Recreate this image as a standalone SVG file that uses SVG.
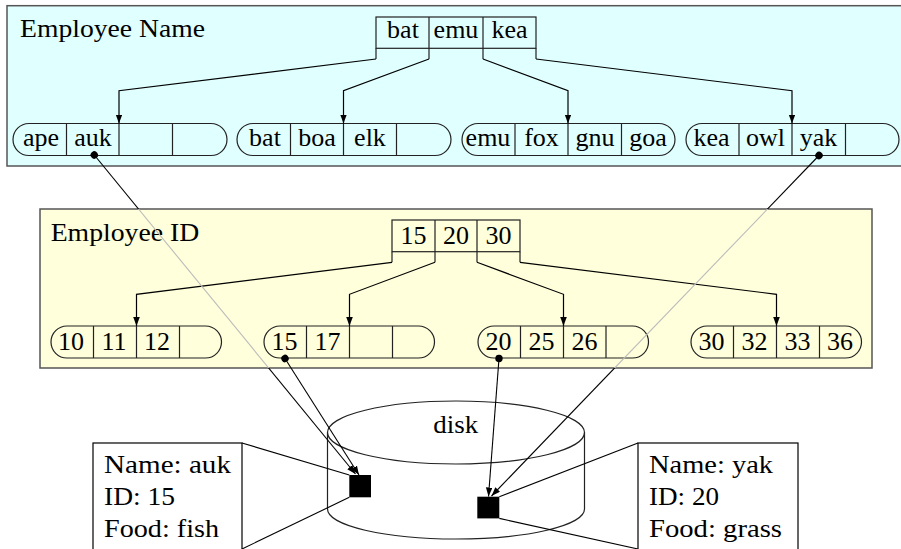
<svg xmlns="http://www.w3.org/2000/svg" width="901" height="549" viewBox="0 0 901 549">
<style>
  text { font-family: "Liberation Serif", "Times New Roman", serif; font-size: 25px; fill: #000; }
  .c { text-anchor: middle; font-size: 26px; }
  .panel { stroke: #555; stroke-width: 1.5; }
  .nd { fill: none; stroke: #222; stroke-width: 1.2; }
  .edge { fill: none; stroke: #000; stroke-width: 1.2; marker-end: url(#arr); }
  .ptr { fill: none; stroke: #000; stroke-width: 1.1; marker-start: url(#dot); marker-end: url(#arr); }
  .cross { stroke: url(#crossGrad); }
  .rec { fill: #fff; stroke: #000; stroke-width: 1.2; }
  .lnk { fill: none; stroke: #000; stroke-width: 1.1; }
</style>
<defs>
  <marker id="arr" markerUnits="userSpaceOnUse" markerWidth="10" markerHeight="8" refX="9" refY="3.3" orient="auto">
    <path d="M0,0 L9,3.3 L0,6.6 Z" fill="#000"/>
  </marker>
  <marker id="dot" markerUnits="userSpaceOnUse" markerWidth="9" markerHeight="9" refX="4.5" refY="4.5" orient="auto">
    <circle cx="4.5" cy="4.5" r="3.7" fill="#000"/>
  </marker>
  <linearGradient id="crossGrad" gradientUnits="userSpaceOnUse" x1="0" y1="0" x2="0" y2="549">
    <stop offset="0" stop-color="#000"/>
    <stop offset="0.3807" stop-color="#000"/>
    <stop offset="0.3807" stop-color="#bbb"/>
    <stop offset="0.6703" stop-color="#bbb"/>
    <stop offset="0.6703" stop-color="#000"/>
    <stop offset="1" stop-color="#000"/>
  </linearGradient>
</defs>
<rect width="901" height="549" fill="#fff"/>

<!-- Panels -->
<g id="panel-name">
  <rect class="panel" x="7" y="5.7" width="900" height="160.3" fill="#e0ffff"/>
  <text x="20" y="37" textLength="185" lengthAdjust="spacingAndGlyphs">Employee Name</text>
</g>
<g id="panel-id">
  <rect class="panel" x="40" y="209" width="832" height="159" fill="#ffffdc"/>
  <text x="50.7" y="240.7" textLength="148.5" lengthAdjust="spacingAndGlyphs">Employee ID</text>
</g>

<!-- Name index root -->
<g id="name-root">
  <rect class="nd" x="376" y="17" width="160" height="31.3"/>
  <path class="nd" d="M429,17 V59 M483,17 V59 M376,48.3 V59 M536,48.3 V59"/>
  <text class="c" x="403" y="38">bat</text>
  <text class="c" x="456" y="38">emu</text>
  <text class="c" x="509.5" y="38">kea</text>
</g>

<!-- Name leaves -->
<g id="name-leaf-1">
  <path class="nd" d="M29,123.5 H211 A16,16 0 0 1 211,155.5 H29 A16,16 0 0 1 29,123.5 Z M66.5,123.5 V155.5 M119,123.5 V155.5 M172.5,123.5 V155.5"/>
  <text class="c" x="41" y="145.5">ape</text>
  <text class="c" x="93" y="145.5">auk</text>
</g>
<g id="name-leaf-2">
  <path class="nd" d="M253,123.5 H435 A16,16 0 0 1 435,155.5 H253 A16,16 0 0 1 253,123.5 Z M290.5,123.5 V155.5 M343.5,123.5 V155.5 M396.5,123.5 V155.5"/>
  <text class="c" x="265" y="145.5">bat</text>
  <text class="c" x="317" y="145.5">boa</text>
  <text class="c" x="370" y="145.5">elk</text>
</g>
<g id="name-leaf-3">
  <path class="nd" d="M478,123.5 H659 A16,16 0 0 1 659,155.5 H478 A16,16 0 0 1 478,123.5 Z M515,123.5 V155.5 M568,123.5 V155.5 M621.5,123.5 V155.5"/>
  <text class="c" x="488" y="145.5">emu</text>
  <text class="c" x="541.5" y="145.5">fox</text>
  <text class="c" x="595" y="145.5">gnu</text>
  <text class="c" x="648" y="145.5">goa</text>
</g>
<g id="name-leaf-4">
  <path class="nd" d="M702,123.5 H883 A16,16 0 0 1 883,155.5 H702 A16,16 0 0 1 702,123.5 Z M739,123.5 V155.5 M792,123.5 V155.5 M845.5,123.5 V155.5"/>
  <text class="c" x="711.5" y="145.5">kea</text>
  <text class="c" x="765.5" y="145.5">owl</text>
  <text class="c" x="818.5" y="145.5">yak</text>
</g>

<!-- ID index root -->
<g id="id-root">
  <rect class="nd" x="392" y="220" width="128" height="31.7"/>
  <path class="nd" d="M435,220 V262.3 M477,220 V262.3 M392,251.7 V262.3 M520,251.7 V262.3"/>
  <text class="c" x="413.5" y="243.5">15</text>
  <text class="c" x="456" y="243.5">20</text>
  <text class="c" x="498.5" y="243.5">30</text>
</g>

<!-- ID leaves -->
<g id="id-leaf-1">
  <path class="nd" d="M67,326 H205.5 A16,16 0 0 1 205.5,358 H67 A16,16 0 0 1 67,326 Z M93.5,326 V358 M136.5,326 V358 M179.5,326 V358"/>
  <text class="c" x="71" y="350">10</text>
  <text class="c" x="114" y="350">11</text>
  <text class="c" x="157" y="350">12</text>
</g>
<g id="id-leaf-2">
  <path class="nd" d="M280,326 H418.5 A16,16 0 0 1 418.5,358 H280 A16,16 0 0 1 280,326 Z M306.5,326 V358 M349.5,326 V358 M392.5,326 V358"/>
  <text class="c" x="284.5" y="350">15</text>
  <text class="c" x="327.5" y="350">17</text>
</g>
<g id="id-leaf-3">
  <path class="nd" d="M494,326 H632.5 A16,16 0 0 1 632.5,358 H494 A16,16 0 0 1 494,326 Z M520.5,326 V358 M563.5,326 V358 M606,326 V358"/>
  <text class="c" x="498.5" y="350">20</text>
  <text class="c" x="541.5" y="350">25</text>
  <text class="c" x="584.5" y="350">26</text>
</g>
<g id="id-leaf-4">
  <path class="nd" d="M707,326 H845.5 A16,16 0 0 1 845.5,358 H707 A16,16 0 0 1 707,326 Z M733.5,326 V358 M776.5,326 V358 M819.5,326 V358"/>
  <text class="c" x="711.5" y="350">30</text>
  <text class="c" x="754.5" y="350">32</text>
  <text class="c" x="797.5" y="350">33</text>
  <text class="c" x="840" y="350">36</text>
</g>

<!-- Disk -->
<g id="disk">
  <ellipse class="nd" cx="456" cy="432.5" rx="128.5" ry="31.5"/>
  <path class="nd" d="M327.5,432.5 V509 A128.5,30 0 0 0 584.5,509 V432.5"/>
  <text x="433.3" y="433.3" textLength="45" lengthAdjust="spacingAndGlyphs">disk</text>
  <rect x="349.3" y="475" width="21.7" height="22.3" fill="#000"/>
  <rect x="477.3" y="496.7" width="22" height="21.7" fill="#000"/>
</g>

<!-- Records -->
<g id="record-auk">
  <rect class="rec" x="93" y="443" width="149" height="130"/>
  <text x="104" y="472.5" textLength="127" lengthAdjust="spacingAndGlyphs">Name: auk</text>
  <text x="104" y="505" textLength="71" lengthAdjust="spacingAndGlyphs">ID: 15</text>
  <text x="104" y="537" textLength="115" lengthAdjust="spacingAndGlyphs">Food: fish</text>
</g>
<g id="record-yak">
  <rect class="rec" x="638" y="443" width="160" height="130"/>
  <text x="649" y="472.5" textLength="124" lengthAdjust="spacingAndGlyphs">Name: yak</text>
  <text x="649" y="505" textLength="70" lengthAdjust="spacingAndGlyphs">ID: 20</text>
  <text x="649" y="537" textLength="133" lengthAdjust="spacingAndGlyphs">Food: grass</text>
</g>

<!-- Connectors -->
<g id="connectors">
  <polyline class="edge" points="376,59 119,90.7 119,123.5"/>
  <polyline class="edge" points="429,59 343.5,90.7 343.5,123.5"/>
  <polyline class="edge" points="483,59 568,90.7 568,123.5"/>
  <polyline class="edge" points="536,59 792,90.7 792,123.5"/>
  <polyline class="edge" points="392,262.3 136.5,294.3 136.5,326"/>
  <polyline class="edge" points="435,262.3 349.5,294.3 349.5,326"/>
  <polyline class="edge" points="477,262.3 563.5,294.3 563.5,326"/>
  <polyline class="edge" points="520,262.3 776.5,294.3 776.5,326"/>
  <line class="ptr cross" x1="94.3" y1="155" x2="355.5" y2="474"/>
  <line class="ptr cross" x1="819" y1="155.5" x2="491.5" y2="496"/>
  <line class="ptr" x1="285" y1="358.5" x2="359" y2="475"/>
  <line class="ptr" x1="499" y1="358.5" x2="488.5" y2="496.5"/>
  <line class="lnk" x1="242" y1="443" x2="349.3" y2="475"/>
  <line class="lnk" x1="242" y1="549" x2="349.3" y2="497.3"/>
  <line class="lnk" x1="638" y1="443" x2="499.3" y2="496.7"/>
  <line class="lnk" x1="638" y1="549" x2="499.3" y2="518.4"/>
</g>
</svg>
